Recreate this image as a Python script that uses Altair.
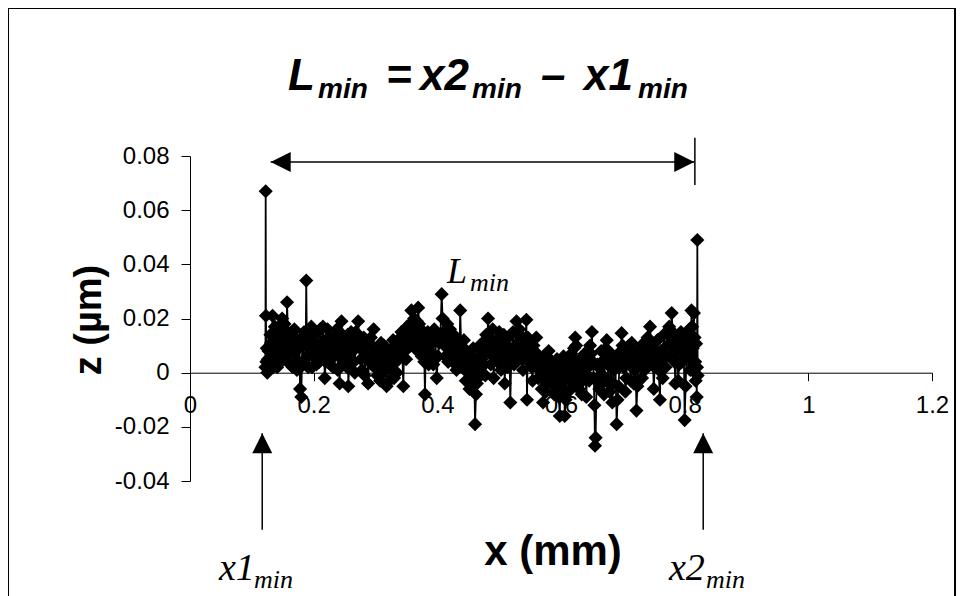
import altair as alt
import pandas as pd

# ---- data ----
x_mm = [
    0.1220, 0.1224, 0.1228, 0.1235, 0.1250, 0.1270, 0.1290, 0.1310, 0.1335, 0.1360, 0.1385, 0.1410,
    0.1440, 0.1465, 0.1490, 0.1515, 0.1540, 0.1570, 0.1595, 0.1620, 0.1650, 0.1675, 0.1700, 0.1730,
    0.1760, 0.1780, 0.1800, 0.1830, 0.1860, 0.1880, 0.1900, 0.1925, 0.1950, 0.1975, 0.2000,
    0.2030, 0.2060, 0.2090, 0.2120, 0.2150, 0.2180, 0.2210, 0.2240, 0.2270, 0.2300, 0.2330, 0.2360,
    0.2390, 0.2420, 0.2450, 0.2480, 0.2510, 0.2540, 0.2560, 0.2590, 0.2620, 0.2650, 0.2680, 0.2720,
    0.2750, 0.2780, 0.2810, 0.2840, 0.2880, 0.2910, 0.2940, 0.2970,
    0.3000, 0.3030, 0.3060, 0.3090, 0.3120, 0.3150, 0.3180, 0.3210, 0.3240, 0.3270, 0.3300, 0.3330, 0.3360,
    0.3390, 0.3420, 0.3450, 0.3480, 0.3510, 0.3540, 0.3580, 0.3610, 0.3640, 0.3670, 0.3690, 0.3720,
    0.3750, 0.3780, 0.3800,
    0.3830, 0.3860, 0.3890, 0.3920, 0.3950, 0.3990, 0.4030, 0.4070, 0.4100, 0.4130, 0.4160, 0.4190,
    0.4220, 0.4250, 0.4280, 0.4310, 0.4340, 0.4370, 0.4400,
    0.4430, 0.4460, 0.4490, 0.4520, 0.4550, 0.4580, 0.4610, 0.4640, 0.4670, 0.4700, 0.4730, 0.4760, 0.4790,
    0.4820, 0.4850, 0.4880, 0.4910, 0.4940, 0.4970, 0.5000, 0.5030, 0.5060, 0.5090, 0.5120, 0.5150,
    0.5180, 0.5210, 0.5240, 0.5280, 0.5310, 0.5340, 0.5370, 0.5400, 0.5440, 0.5450, 0.5480, 0.5510,
    0.5540, 0.5570,
    0.5600, 0.5630, 0.5660, 0.5690, 0.5710, 0.5740, 0.5770, 0.5800, 0.5830, 0.5860, 0.5890, 0.5920,
    0.5950, 0.5980, 0.6010, 0.6040, 0.6060, 0.6090, 0.6120, 0.6150, 0.6180, 0.6210, 0.6230, 0.6260,
    0.6290, 0.6320, 0.6350, 0.6380, 0.6410, 0.6440, 0.6470, 0.6500, 0.6530, 0.6550, 0.6560, 0.6590,
    0.6620, 0.6650, 0.6680, 0.6710, 0.6740, 0.6770, 0.6800, 0.6830, 0.6860, 0.6900, 0.6930, 0.6960, 0.6980,
    0.7010, 0.7040, 0.7070, 0.7100, 0.7130, 0.7160, 0.7190, 0.7220, 0.7250, 0.7280, 0.7310, 0.7340,
    0.7370, 0.7400, 0.7440, 0.7470, 0.7500, 0.7530, 0.7560, 0.7600, 0.7630, 0.7660, 0.7690, 0.7720,
    0.7750, 0.7790, 0.7820, 0.7850, 0.7880, 0.7910, 0.7940, 0.7970, 0.8000,
    0.8030, 0.8060, 0.8090, 0.8110, 0.8130, 0.8150, 0.8170, 0.8185, 0.8195, 0.8200, 0.8205, 0.8210,
    # second, interleaved set of samples
    0.1242, 0.1260, 0.1280, 0.1300, 0.1322, 0.1348, 0.1372, 0.1398, 0.1425, 0.1452, 0.1478, 0.1502,
    0.1528, 0.1555, 0.1582, 0.1608, 0.1635, 0.1662, 0.1688, 0.1715, 0.1745, 0.1770, 0.1790, 0.1815,
    0.1845, 0.1870, 0.1890, 0.1912, 0.1938, 0.1962, 0.1988,
    0.2015, 0.2045, 0.2075, 0.2105, 0.2135, 0.2165, 0.2195, 0.2225, 0.2255, 0.2285, 0.2315, 0.2345,
    0.2375, 0.2405, 0.2435, 0.2465, 0.2495, 0.2525, 0.2550, 0.2575, 0.2605, 0.2635, 0.2665, 0.2700,
    0.2735, 0.2765, 0.2795, 0.2825, 0.2860, 0.2895, 0.2925, 0.2955, 0.2985,
    0.3015, 0.3045, 0.3075, 0.3105, 0.3135, 0.3165, 0.3195, 0.3225, 0.3255, 0.3285, 0.3315, 0.3345,
    0.3375, 0.3405, 0.3435, 0.3465, 0.3495, 0.3525, 0.3560, 0.3595, 0.3625, 0.3655, 0.3680, 0.3705,
    0.3735, 0.3765, 0.3790, 0.3815, 0.3845, 0.3875, 0.3905, 0.3935, 0.3970,
    0.4010, 0.4050, 0.4085, 0.4115, 0.4145, 0.4175, 0.4205, 0.4235, 0.4265, 0.4295, 0.4325, 0.4355,
    0.4385, 0.4415, 0.4445, 0.4475, 0.4505, 0.4535, 0.4565, 0.4595, 0.4625, 0.4655, 0.4685, 0.4715,
    0.4745, 0.4775, 0.4805, 0.4835, 0.4865, 0.4895, 0.4925, 0.4955, 0.4985,
    0.5015, 0.5045, 0.5075, 0.5105, 0.5135, 0.5165, 0.5195, 0.5225, 0.5260, 0.5295, 0.5325, 0.5355,
    0.5385, 0.5420, 0.5465, 0.5495, 0.5525, 0.5555, 0.5585, 0.5615, 0.5645, 0.5675, 0.5700, 0.5725,
    0.5755, 0.5785, 0.5815, 0.5845, 0.5875, 0.5905, 0.5935, 0.5965, 0.5995,
    0.6025, 0.6050, 0.6075, 0.6105, 0.6135, 0.6165, 0.6195, 0.6220, 0.6245, 0.6275, 0.6305, 0.6335,
    0.6365, 0.6395, 0.6425, 0.6455, 0.6485, 0.6515, 0.6540, 0.6575, 0.6605, 0.6635, 0.6665, 0.6695,
    0.6725, 0.6755, 0.6785, 0.6815, 0.6845, 0.6880, 0.6915, 0.6945, 0.6970, 0.6995,
    0.7025, 0.7055, 0.7085, 0.7115, 0.7145, 0.7175, 0.7205, 0.7235, 0.7265, 0.7295, 0.7325, 0.7355,
    0.7385, 0.7420, 0.7455, 0.7485, 0.7515, 0.7545, 0.7580, 0.7615, 0.7645, 0.7675, 0.7705, 0.7735,
    0.7770, 0.7805, 0.7835, 0.7865, 0.7895, 0.7925, 0.7955, 0.7985,
    0.8015, 0.8045, 0.8075, 0.8100, 0.8120, 0.8140, 0.8160, 0.8178,
]
z_um = [
    0.002, 0.067, 0.021, 0.004, 0.000, 0.008, 0.003, 0.011, 0.021, 0.006, 0.013, 0.002,
    0.017, 0.009, 0.020, 0.005, 0.012, 0.026, 0.010, 0.003, 0.015, 0.007, 0.013, 0.001,
    0.009, -0.006, -0.009, 0.004, 0.012, 0.034, 0.006, 0.016, 0.010, 0.002, 0.014,
    0.008, 0.015, 0.004, 0.011, 0.017, -0.002, 0.009, 0.013, 0.003, 0.010, 0.006, 0.014,
    0.001, -0.004, 0.019, 0.008, 0.012, 0.002, -0.005, 0.007, 0.011, 0.004, 0.015, 0.019,
    0.009, 0.001, 0.013, 0.006, -0.004, 0.010, 0.003, 0.016,
    0.007, -0.001, 0.004, 0.011, 0.000, 0.003, -0.005, 0.006, 0.002, 0.009, -0.002, 0.004, 0.012,
    0.008, 0.015, -0.005, 0.010, 0.017, 0.013, 0.023, 0.016, 0.011, 0.019, 0.024, 0.012,
    0.006, 0.014, -0.008,
    0.009, 0.003, 0.013, 0.007, 0.016, -0.002, 0.011, 0.029, 0.015, 0.006, 0.018, 0.009,
    0.013, 0.004, 0.010, 0.001, 0.008, 0.023, 0.005,
    0.012, -0.003, 0.004, -0.006, 0.002, 0.009, -0.019, -0.004, 0.006, -0.001, 0.011, 0.003, 0.014,
    0.020, 0.007, 0.012, -0.002, 0.009, 0.004, 0.015, 0.001, 0.010, -0.004, 0.006, 0.013,
    -0.011, 0.008, 0.003, 0.019, 0.010, 0.014, 0.005, 0.012, 0.0195, -0.010, 0.004, 0.011,
    -0.003, 0.007,
    0.013, -0.002, 0.005, -0.006, -0.011, 0.003, -0.004, 0.008, -0.001, 0.004, -0.008, 0.002,
    -0.005, -0.016, -0.003, 0.006, -0.016, 0.001, -0.007, 0.004, -0.002, 0.009, 0.013, 0.000,
    -0.006, 0.005, -0.003, 0.007, -0.009, 0.002, 0.010, 0.015, -0.002, -0.027, -0.024, 0.003,
    -0.006, 0.008, -0.001, 0.005, 0.012, -0.004, 0.003, -0.011, 0.001, -0.019, -0.005, 0.006, 0.0146,
    0.002, -0.007, 0.005, 0.010, -0.003, 0.007, 0.001, -0.014, 0.004, 0.009, -0.002, 0.011,
    0.006, 0.013, 0.017, 0.003, -0.006, 0.008, 0.012, -0.010, 0.005, 0.014, 0.002, 0.010,
    0.017, 0.022, 0.007, -0.004, 0.012, 0.003, 0.015, 0.008, -0.0175,
    0.006, 0.013, 0.001, 0.023, 0.009, 0.022, 0.004, 0.0107, -0.009, 0.002, 0.049, -0.001,
    # second, interleaved set of samples
    0.009, 0.005, 0.001, 0.014, 0.007, 0.002, 0.017, 0.009, 0.011, 0.004, 0.014, 0.010,
    0.018, 0.006, 0.015, 0.008, 0.011, 0.002, 0.016, 0.009, 0.004, 0.012, 0.002, 0.010,
    0.015, 0.005, 0.011, 0.002, 0.013, 0.017, 0.006,
    0.011, 0.003, 0.010, 0.016, 0.006, 0.010, 0.004, 0.016, 0.008, 0.012, 0.002, 0.009,
    0.016, 0.007, 0.011, 0.014, 0.004, 0.009, 0.014, 0.003, 0.015, 0.008, 0.000, 0.010,
    0.013, 0.005, 0.010, -0.001, 0.011, 0.005, 0.013, 0.007, 0.002,
    0.009, 0.006, -0.003, 0.007, 0.010, 0.002, 0.008, -0.003, 0.005, 0.012, 0.007, 0.000,
    0.005, 0.011, 0.006, 0.013, 0.005, 0.009, 0.018, 0.011, 0.020, 0.015, 0.008, 0.018,
    0.016, 0.010, 0.004, 0.012, 0.015, 0.005, 0.011, 0.003, 0.012,
    0.006, 0.014, 0.020, 0.010, 0.013, 0.004, 0.016, 0.008, 0.014, 0.006, 0.012, 0.003,
    0.010, 0.007, 0.001, 0.008, 0.000, 0.006, -0.002, 0.003, -0.008, 0.001, 0.010, 0.005,
    0.008, -0.001, 0.009, 0.013, 0.003, 0.016, 0.006, 0.012, 0.008,
    0.011, 0.005, 0.014, 0.007, 0.002, 0.009, 0.004, 0.015, 0.010, 0.006, 0.016, 0.009,
    0.001, 0.008, 0.013, 0.007, 0.002, 0.010, 0.004, 0.007, 0.001, 0.003, -0.002, 0.006,
    -0.007, 0.001, 0.005, -0.004, 0.002, -0.002, 0.005, -0.009, 0.000,
    -0.006, 0.003, -0.010, 0.004, -0.001, 0.007, -0.004, 0.005, 0.010, -0.003, 0.002, -0.008,
    0.004, 0.000, 0.005, -0.003, 0.007, 0.004, -0.012, -0.003, 0.002, -0.004, 0.004, -0.008,
    0.009, 0.003, -0.007, 0.007, -0.004, 0.004, -0.010, 0.002, 0.008, 0.010,
    0.004, -0.002, 0.008, 0.003, 0.011, -0.004, 0.006, -0.005, 0.007, 0.002, 0.008, 0.001,
    0.009, 0.005, 0.011, 0.007, 0.002, 0.005, 0.001, 0.008, -0.002, 0.009, 0.006, 0.014,
    0.010, 0.015, 0.004, 0.008, -0.003, 0.010, 0.004, 0.012,
    -0.005, 0.009, 0.016, 0.005, 0.017, 0.003, 0.013, -0.003,
]
x_ticks = [0, 0.2, 0.4, 0.6, 0.8, 1, 1.2]
z_ticks = [-0.04, -0.02, 0, 0.02, 0.04, 0.06, 0.08]

# annotation geometry in data units
span_z = [0.0778]
span_x = [0.1305, 0.8155]
bar_x = [0.8165]
bar_z = [0.0693, 0.0867]
marker_x = [0.1168, 0.830]
marker_tip_z = [-0.0224]
marker_end_z = [-0.058]

df = pd.DataFrame({"x": x_mm, "z": z_um}).sort_values("x", kind="stable").reset_index(drop=True)
df["i"] = range(len(df))

W, H = 742, 325
SANS = "Liberation Sans"
SERIF = "Liberation Serif"

xs = alt.Scale(domain=[0, 1.2], nice=False, zero=False)
ys = alt.Scale(domain=[-0.04, 0.08], nice=False, zero=False)

x_axis = alt.Axis(values=x_ticks, labelExpr="format(datum.value, '~g')", grid=False,
                  domainColor="black", tickColor="black", tickSize=8, labelFontSize=24,
                  labelFont=SANS, labelColor="black", labelPadding=13, title=None,
                  offset=-108.3, labelFlush=False, labelOverlap=False)
y_axis = alt.Axis(values=z_ticks,
                  labelExpr="datum.value == 0 ? '0' : (datum.value < 0 ? '-' : '') + format(abs(datum.value), '.2f')",
                  grid=False, domainColor="black", tickColor="black", tickSize=9, labelFontSize=24,
                  labelFont=SANS, labelColor="black", labelPadding=12, title=None, labelFlush=False,
                  labelOverlap=False)

base = alt.Chart(df)
line = base.mark_line(color="black", strokeWidth=1.8).encode(
    x=alt.X("x:Q", scale=xs, axis=x_axis),
    y=alt.Y("z:Q", scale=ys, axis=y_axis),
    order="i:Q",
)
pts = base.mark_point(shape="diamond", filled=True, size=200, color="black", opacity=1).encode(
    x=alt.X("x:Q", scale=xs), y=alt.Y("z:Q", scale=ys)
)

# span arrow (L_min)
span_df = pd.DataFrame({"x": [span_x[0]], "x2": [span_x[1]], "z": span_z})
span_line = alt.Chart(span_df).mark_rule(color="black", strokeWidth=1.5).encode(
    x=alt.X("x:Q", scale=xs), x2="x2", y=alt.Y("z:Q", scale=ys))
head_l = alt.Chart(pd.DataFrame({"x": [span_x[0]], "z": span_z})).mark_point(
    shape="M 0 0 L 2 -1 L 2 1 Z", filled=True, size=400, color="black", opacity=1).encode(
    x=alt.X("x:Q", scale=xs), y=alt.Y("z:Q", scale=ys))
head_r = alt.Chart(pd.DataFrame({"x": [span_x[1]], "z": span_z})).mark_point(
    shape="M 0 0 L -2 -1 L -2 1 Z", filled=True, size=400, color="black", opacity=1).encode(
    x=alt.X("x:Q", scale=xs), y=alt.Y("z:Q", scale=ys))
bar = alt.Chart(pd.DataFrame({"x": bar_x, "z": [bar_z[0]], "z2": [bar_z[1]]})).mark_rule(
    color="black", strokeWidth=1.5).encode(
    x=alt.X("x:Q", scale=xs), y=alt.Y("z:Q", scale=ys), y2="z2")

# bottom marker arrows
mk_df = pd.DataFrame({"x": marker_x, "z": marker_tip_z * 2, "z2": marker_end_z * 2})
mk_line = alt.Chart(mk_df).mark_rule(color="black", strokeWidth=1.5).encode(
    x=alt.X("x:Q", scale=xs), y=alt.Y("z:Q", scale=ys), y2="z2")
mk_head = alt.Chart(mk_df).mark_point(
    shape="M 0 0 L -1 2 L 1 2 Z", filled=True, size=400, color="black", opacity=1).encode(
    x=alt.X("x:Q", scale=xs), y=alt.Y("z:Q", scale=ys))

one = pd.DataFrame({"k": [0]})


def txt(text, x, y, size, font, style="normal", weight="normal", align="left",
        baseline="alphabetic", angle=0):
    return alt.Chart(one).mark_text(
        text=text, font=font, fontSize=size, fontStyle=style, fontWeight=weight,
        align=align, baseline=baseline, angle=angle, color="black"
    ).encode(x=alt.value(x), y=alt.value(y))


# positions relative to plot area origin (page 190,156)
title_parts = [
    txt("L", 98, -66, 44, SANS, "italic", "bold"),
    txt("min", 128, -58, 28, SANS, "italic", "bold"),
    txt("=", 196, -66, 44, SANS, "italic", "bold"),
    txt("x2", 230, -66, 44, SANS, "italic", "bold"),
    txt("min", 282, -58, 28, SANS, "italic", "bold"),
    txt("\u2013", 351, -66, 44, SANS, "italic", "bold"),
    txt("x1", 394, -66, 44, SANS, "italic", "bold"),
    txt("min", 448, -58, 28, SANS, "italic", "bold"),
]
lmin = [
    txt("L", 257, 127, 36, SERIF, "italic"),
    txt("min", 280, 135, 26, SERIF, "italic"),
]
x1lab = [
    txt("x1", 29, 424, 38, SERIF, "italic"),
    txt("min", 64, 432, 26, SERIF, "italic"),
]
x2lab = [
    txt("x2", 479, 424, 38, SERIF, "italic"),
    txt("min", 516, 432, 26, SERIF, "italic"),
]
xtitle = txt("x (mm)", 363, 409, 42, SANS, "normal", "bold", align="center")
ytitle = txt("z (\u00b5m)", -100, 164, 38, SANS, "normal", "bold", align="center",
             baseline="middle", angle=270)

frame = alt.Chart(one).mark_rect(fill="transparent", stroke="black", strokeWidth=2).encode(
    x=alt.value(-182), x2=alt.value(765), y=alt.value(-148), y2=alt.value(460))

chart = alt.layer(
    frame, line, pts, span_line, head_l, head_r, bar, mk_line, mk_head,
    *title_parts, *lmin, *x1lab, *x2lab, xtitle, ytitle,
).properties(
    width=W, height=H,
    background="white",
    autosize=alt.AutoSizeParams(type="none"),
    padding={"left": 182, "top": 148, "right": 24, "bottom": 115},
).configure_view(stroke="transparent", strokeWidth=0)

chart.save("out.html", embed_options={"renderer": "svg", "actions": False})
